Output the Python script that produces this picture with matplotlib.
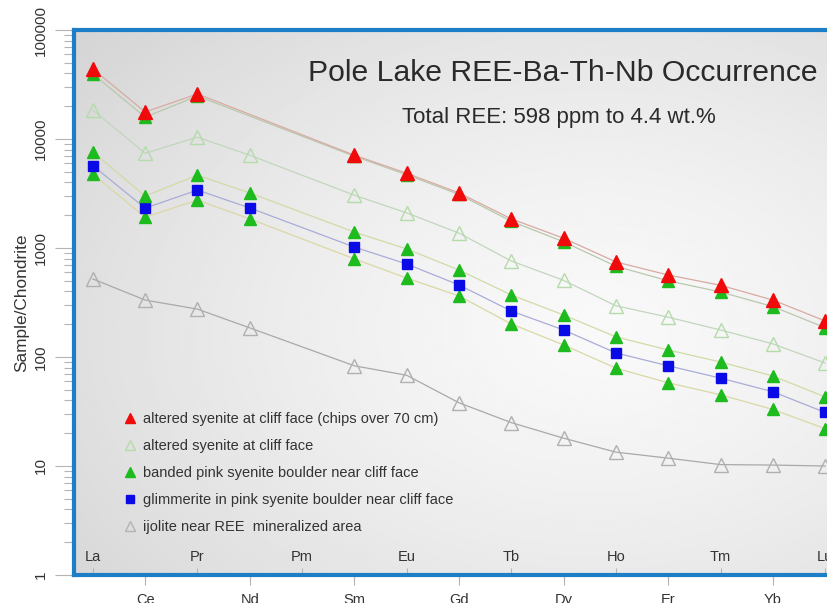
import numpy as np
import matplotlib
matplotlib.use("Agg")
import matplotlib.pyplot as plt
from matplotlib.lines import Line2D
from matplotlib.ticker import LogLocator, NullFormatter

plt.rcParams['font.family'] = ['Liberation Sans', 'DejaVu Sans']

nan = np.nan
elements = ['La', 'Ce', 'Pr', 'Nd', 'Pm', 'Sm', 'Eu', 'Gd', 'Tb', 'Dy',
            'Ho', 'Er', 'Tm', 'Yb', 'Lu']

# chondrite-normalised REE values
chips_70cm = [44000, 17700, 25900, nan, nan, 7100, 4850, 3200, 1850, 1230,
              745, 565, 455, 333, 214]
banded_top = [39500, 15900, 24800, nan, nan, 6950, 4700, 3100, 1760, 1140,
              680, 500, 395, 290, 186]
altered_cliff = [18400, 7400, 10400, 7100, nan, 3050, 2100, 1370, 760, 505,
                 295, 232, 177, 132, 88]
banded_hi = [7600, 3000, 4650, 3200, nan, 1400, 980, 628, 371, 243,
             153, 116, 90, 67, 43]
glimmerite = [5700, 2320, 3400, 2330, nan, 1020, 713, 458, 264, 177,
              109, 83, 64, 48, 31]
banded_lo = [4750, 1920, 2750, 1850, nan, 795, 530, 363, 201, 129,
             79, 58, 45, 33, 22]
ijolite = [520, 333, 275, 185, nan, 83, 68, 38, 25, 18,
           13.4, 11.8, 10.3, 10.2, 10.0]

legend_labels = [
    'altered syenite at cliff face (chips over 70 cm)',
    'altered syenite at cliff face',
    'banded pink syenite boulder near cliff face',
    'glimmerite in pink syenite boulder near cliff face',
    'ijolite near REE  mineralized area',
]
title = 'Pole Lake REE-Ba-Th-Nb Occurrence'
subtitle = 'Total REE: 598 ppm to 4.4 wt.%'

fig = plt.figure(figsize=(8.28, 6.03), dpi=100)
fig.patch.set_facecolor('white')
rect = [74 / 828, 28 / 603, 770 / 828, 545 / 603]

# shaded panel background
bg = fig.add_axes(rect, zorder=0)
yy, xx = np.mgrid[0:1:300j, 0:1:300j]
d = np.sqrt(((xx - 0.68) / 0.78) ** 2 + ((yy - 0.55) / 0.75) ** 2)
shade = 0.975 - 0.12 * np.clip(d, 0, 1.2) ** 1.4
bg.imshow(shade, cmap='gray', vmin=0, vmax=1, extent=[0, 1, 0, 1],
          aspect='auto', origin='upper', interpolation='bilinear')
bg.set_axis_off()

ax = fig.add_axes(rect, zorder=1)
ax.set_facecolor('none')
x = np.arange(len(elements))


def draw(vals, line_color, marker, ms, face, edge, z):
    v = np.asarray(vals, dtype=float)
    m = ~np.isnan(v)
    ax.plot(x[m], v[m], color=line_color, lw=0.9, zorder=z)
    ax.plot(x[m], v[m], ls='none', marker=marker, ms=ms, mfc=face,
            mec=edge, mew=1.0, zorder=z + 0.5)


draw(ijolite, '#a9a9a9', '^', 10, 'none', '#b0b0b0', 2)
draw(banded_lo, '#dad8a4', '^', 9, '#1dbb1d', '#1dbb1d', 3)
draw(glimmerite, '#a9acd8', 's', 7.5, '#0a0ae6', '#0a0ae6', 3)
draw(banded_hi, '#cfdca4', '^', 9, '#1dbb1d', '#1dbb1d', 3)
draw(altered_cliff, '#c2d6be', '^', 10, 'none', '#b4dcaa', 3)
draw(banded_top, '#b9c8ac', '^', 9, '#1dbb1d', '#1dbb1d', 4)
draw(chips_70cm, '#d8aaa2', '^', 9.5, '#f00a0a', '#f00a0a', 5)

ax.set_yscale('log')
ax.set_ylim(1, 100000)
ax.set_xlim(-0.36, 14.36)

# y axis
ax.set_yticks([1, 10, 100, 1000, 10000, 100000],
              labels=['1', '10', '100', '1000', '10000', '100000'])
ax.yaxis.set_minor_locator(LogLocator(base=10, subs=np.arange(2, 10)))
ax.yaxis.set_minor_formatter(NullFormatter())
ax.tick_params(axis='y', which='major', length=14, width=0.8,
               color='#b4b4b4', pad=5, labelsize=11, labelcolor='#333333',
               labelrotation=90)
ax.tick_params(axis='y', which='minor', length=7, width=0.8, color='#b4b4b4')
for lab in ax.get_yticklabels():
    lab.set_va('center')
ax.set_ylabel('Sample/Chondrite', fontsize=12.4, color='#333333', labelpad=3)

# x axis: alternating labels inside and outside the panel
even = x[::2]
odd = x[1::2]
ax.set_xticks(even, labels=[elements[i] for i in even])
ax.set_xticks(odd, labels=[elements[i] for i in odd], minor=True)
ax.tick_params(axis='x', which='major', direction='in', length=5, width=0.8,
               color='#b4b4b4', pad=-18, labelsize=10.5, labelcolor='#333333')
ax.tick_params(axis='x', which='minor', direction='out', length=7, width=0.8,
               color='#b4b4b4', pad=6, labelsize=10.5, labelcolor='#333333')

for s in ax.spines.values():
    s.set_color('#1b7ec6')
    s.set_linewidth(3)

ax.text(0.635, 0.921, title, transform=ax.transAxes, ha='center',
        va='center', fontsize=21.7, color='#2a2a2a')
ax.text(0.630, 0.840, subtitle, transform=ax.transAxes, ha='center',
        va='center', fontsize=16, color='#2a2a2a')

handles = [
    Line2D([], [], ls='none', marker='^', ms=7, mfc='#f00a0a', mec='#f00a0a'),
    Line2D([], [], ls='none', marker='^', ms=7, mfc='none', mec='#b4dcaa'),
    Line2D([], [], ls='none', marker='^', ms=7, mfc='#1dbb1d', mec='#1dbb1d'),
    Line2D([], [], ls='none', marker='s', ms=5.5, mfc='#0a0ae6', mec='#0a0ae6'),
    Line2D([], [], ls='none', marker='^', ms=7, mfc='none', mec='#b4b4b4'),
]
leg = ax.legend(handles, legend_labels, loc='upper left',
                bbox_to_anchor=(0.065, 0.2995), frameon=False, fontsize=10.5,
                handlelength=0.8, handletextpad=0.5, labelspacing=0.9,
                borderpad=0, borderaxespad=0)
for t in leg.get_texts():
    t.set_color('#333333')

fig.savefig('out.png', dpi=100)
